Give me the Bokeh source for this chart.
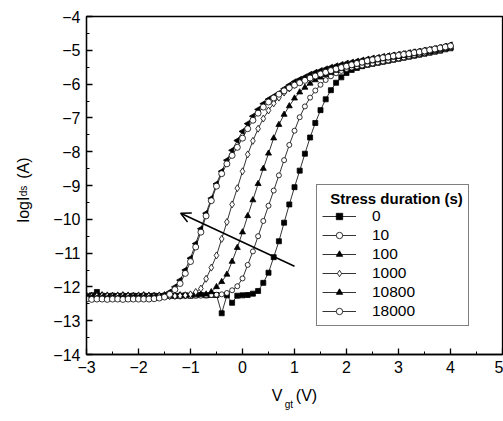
import math
from bokeh.plotting import figure
from bokeh.models import (Range1d, SingleIntervalTicker, FixedTicker, LinearAxis,
                          Arrow, OpenHead, Legend, LegendItem)
from bokeh.embed import file_html
from bokeh.resources import INLINE

# ---------------- data ----------------
vgt = [-3.0, -2.9, -2.8, -2.7, -2.6, -2.5, -2.4, -2.3, -2.2, -2.1,
       -2.0, -1.9, -1.8, -1.7, -1.6, -1.5, -1.4, -1.3, -1.2, -1.1,
       -1.0, -0.9, -0.8, -0.7, -0.6, -0.5, -0.4, -0.3, -0.2, -0.1,
       0.0, 0.1, 0.2, 0.3, 0.4, 0.5, 0.6, 0.7, 0.8, 0.9,
       1.0, 1.1, 1.2, 1.3, 1.4, 1.5, 1.6, 1.7, 1.8, 1.9,
       2.0, 2.1, 2.2, 2.3, 2.4, 2.5, 2.6, 2.7, 2.8, 2.9,
       3.0, 3.1, 3.2, 3.3, 3.4, 3.5, 3.6, 3.7, 3.8, 3.9,
       4.0]

logids_0 = [-12.28, -12.25, -12.15, -12.26, -12.27, -12.26, -12.27, -12.26, -12.27, -12.26,
            -12.27, -12.26, -12.27, -12.26, -12.27, -12.26, -12.26, -12.27, -12.26, -12.25,
            -12.26, -12.25, -12.24, -12.25, -12.24, -12.24, -12.78, -12.25, -12.47, -12.26,
            -12.25, -12.24, -12.20, -12.12, -11.88, -11.58, -11.12, -10.65, -10.10, -9.56,
            -9.05, -8.56, -8.06, -7.58, -7.15, -6.77, -6.45, -6.18, -5.96, -5.80,
            -5.67, -5.58, -5.52, -5.47, -5.43, -5.40, -5.37, -5.34, -5.31, -5.28,
            -5.25, -5.22, -5.19, -5.16, -5.13, -5.10, -5.07, -5.04, -5.01, -4.97,
            -4.94]

logids_10 = [-12.29, -12.28, -12.29, -12.28, -12.29, -12.28, -12.29, -12.28, -12.29, -12.28,
             -12.28, -12.29, -12.28, -12.28, -12.29, -12.28, -12.28, -12.27, -12.28, -12.27,
             -12.27, -12.26, -12.26, -12.25, -12.24, -12.23, -12.22, -12.18, -12.10, -11.98,
             -11.75, -11.35, -10.95, -10.50, -10.05, -9.60, -9.15, -8.70, -8.25, -7.80,
             -7.38, -6.98, -6.66, -6.40, -6.19, -6.02, -5.88, -5.77, -5.68, -5.61,
             -5.55, -5.51, -5.48, -5.45, -5.42, -5.39, -5.36, -5.33, -5.30, -5.27,
             -5.24, -5.21, -5.18, -5.15, -5.12, -5.09, -5.06, -5.03, -5.00, -4.96,
             -4.93]

logids_100 = [-12.25, -12.26, -12.25, -12.24, -12.25, -12.26, -12.25, -12.24, -12.25, -12.26,
              -12.25, -12.24, -12.25, -12.26, -12.25, -12.24, -12.25, -12.25, -12.24, -12.25,
              -12.24, -12.24, -12.23, -12.22, -12.15, -12.00, -11.85, -11.63, -11.25, -10.84,
              -10.38, -9.90, -9.43, -8.95, -8.50, -8.05, -7.60, -7.20, -6.90, -6.65,
              -6.42, -6.24, -6.10, -5.98, -5.88, -5.80, -5.73, -5.66, -5.60, -5.55,
              -5.50, -5.46, -5.42, -5.38, -5.35, -5.32, -5.29, -5.26, -5.23, -5.21,
              -5.19, -5.16, -5.14, -5.11, -5.09, -5.06, -5.04, -5.01, -4.98, -4.95,
              -4.92]

logids_1000 = [-12.27, -12.28, -12.27, -12.26, -12.27, -12.28, -12.27, -12.26, -12.27, -12.28,
               -12.27, -12.26, -12.27, -12.28, -12.27, -12.26, -12.27, -12.27, -12.26, -12.25,
               -12.22, -12.15, -12.05, -11.76, -11.43, -11.07, -10.58, -10.08, -9.56, -9.08,
               -8.58, -8.08, -7.68, -7.32, -7.02, -6.78, -6.57, -6.40, -6.25, -6.13,
               -6.02, -5.93, -5.85, -5.78, -5.72, -5.66, -5.61, -5.56, -5.52, -5.48,
               -5.45, -5.41, -5.37, -5.33, -5.30, -5.27, -5.24, -5.21, -5.19, -5.16,
               -5.14, -5.11, -5.09, -5.06, -5.04, -5.01, -4.99, -4.96, -4.93, -4.90,
               -4.86]

logids_10800 = [-12.31, -12.30, -12.31, -12.30, -12.31, -12.30, -12.31, -12.30, -12.31, -12.30,
                -12.30, -12.30, -12.31, -12.30, -12.30, -12.25, -12.15, -12.00, -11.80, -11.50,
                -11.15, -10.72, -10.28, -9.82, -9.38, -8.95, -8.58, -8.25, -7.96, -7.67,
                -7.40, -7.17, -6.95, -6.75, -6.58, -6.45, -6.36, -6.27, -6.14, -6.03,
                -5.93, -5.86, -5.79, -5.71, -5.65, -5.60, -5.55, -5.50, -5.46, -5.42,
                -5.38, -5.35, -5.32, -5.29, -5.26, -5.23, -5.21, -5.18, -5.16, -5.14,
                -5.12, -5.10, -5.07, -5.05, -5.03, -5.00, -4.98, -4.95, -4.92, -4.88,
                -4.84]

logids_18000 = [-12.36, -12.37, -12.36, -12.36, -12.37, -12.36, -12.36, -12.37, -12.36, -12.36,
                -12.36, -12.36, -12.36, -12.35, -12.33, -12.30, -12.22, -12.08, -11.90, -11.60,
                -11.25, -10.82, -10.38, -9.90, -9.45, -9.02, -8.65, -8.36, -8.11, -7.87,
                -7.60, -7.32, -7.07, -6.86, -6.68, -6.53, -6.41, -6.30, -6.20, -6.11,
                -6.03, -5.96, -5.89, -5.82, -5.76, -5.70, -5.65, -5.60, -5.55, -5.51,
                -5.47, -5.43, -5.39, -5.35, -5.31, -5.28, -5.25, -5.22, -5.20, -5.17,
                -5.15, -5.12, -5.10, -5.07, -5.05, -5.02, -4.99, -4.96, -4.93, -4.90,
                -4.87]

series_labels = ["0", "10", "100", "1000", "10800", "18000"]
series_values = [logids_0, logids_10, logids_100, logids_1000, logids_10800, logids_18000]

legend_title = "Stress duration (s)"
arrow_tail = (1.0, -11.39)
arrow_tip = (-1.19, -9.82)

# ---------------- figure ----------------
FONT = "Liberation Sans"
NB = "\u00a0"

p = figure(width=503, height=421, x_range=Range1d(-3, 5), y_range=Range1d(-14, -4),
           output_backend="svg", toolbar_location=None,
           min_border_left=86, min_border_right=1,
           min_border_top=16, min_border_bottom=67)
p.grid.visible = False
p.outline_line_color = "black"
p.outline_line_width = 1.3
p.outline_line_alpha = 1.0
p.background_fill_color = "white"
p.border_fill_color = "white"


def style_label(ax, size, standoff):
    ax.axis_label_text_font = FONT
    ax.axis_label_text_font_size = size
    ax.axis_label_text_font_style = "normal"
    ax.axis_label_text_color = "black"
    ax.axis_label_standoff = standoff


for ax in (p.xaxis[0], p.yaxis[0]):
    ax.ticker = SingleIntervalTicker(interval=1, num_minor_ticks=2)
    ax.axis_line_width = 1.3
    ax.axis_line_color = "black"
    ax.major_tick_line_color = "black"
    ax.minor_tick_line_color = "black"
    ax.major_tick_line_width = 1.3
    ax.minor_tick_line_width = 1.0
    ax.major_tick_in = 6
    ax.major_tick_out = 0
    ax.minor_tick_in = 3
    ax.minor_tick_out = 0
    ax.major_label_text_font = FONT
    ax.major_label_text_font_size = "16px"
    ax.major_label_text_color = "black"
    ax.major_label_standoff = 6

# x title "V_gt (V)": main part on the tick axis, subscript on an extra bare axis
p.xaxis[0].axis_label = "V" + NB * 3 + "(V)"
style_label(p.xaxis[0], "16px", 11)

# y title "logI_ds (A)": subscript on the tick axis, main part on an extra bare axis
p.yaxis[0].axis_label = "ds" + NB * 4
style_label(p.yaxis[0], "10px", 21)


def bare_axis():
    a = LinearAxis(ticker=FixedTicker(ticks=[]))
    a.axis_line_color = None
    a.major_tick_in = 0
    a.major_tick_out = 0
    a.minor_tick_in = 0
    a.minor_tick_out = 0
    a.major_label_standoff = 0
    return a


ax_gt = bare_axis()
ax_gt.axis_label = "gt" + NB * 4
style_label(ax_gt, "10px", -8)
p.add_layout(ax_gt, "below")

ax_log = bare_axis()
ax_log.axis_label = "logI" + NB * 4 + "(A)" + NB * 2
style_label(ax_log, "16px", -16)
p.add_layout(ax_log, "left")

styles = [
    dict(marker="square", size=5, fill_color="black", angle=0.0),
    dict(marker="circle", size=5, fill_color="white", angle=0.0),
    dict(marker="triangle", size=6, fill_color="black", angle=0.0),
    dict(marker="diamond", size=7, fill_color="white", angle=0.0),
    dict(marker="triangle", size=6, fill_color="black", angle=math.pi / 2),
    dict(marker="circle", size=6, fill_color="white", angle=0.0),
]

items = []
for lab, ys, st in zip(series_labels, series_values, styles):
    rl = p.line(vgt, ys, line_color="black", line_width=0.8)
    rs = p.scatter(vgt, ys, marker=st["marker"], size=st["size"], angle=st["angle"],
                   fill_color=st["fill_color"], line_color="black", line_width=0.8)
    items.append(LegendItem(label=lab, renderers=[rl, rs]))

legend = Legend(items=items, location=(230, 28), margin=0,
                title=NB * 2 + legend_title,
                title_text_font=FONT, title_text_font_style="bold",
                title_text_font_size="15px", title_text_color="black",
                title_standoff=0,
                label_text_font=FONT, label_text_font_size="15.5px", label_text_color="black",
                padding=5, spacing=1, glyph_height=16, glyph_width=34,
                label_height=16, label_standoff=16,
                border_line_color="black", border_line_width=1,
                background_fill_color="white", background_fill_alpha=1.0)
p.add_layout(legend)

p.add_layout(Arrow(end=OpenHead(size=10, line_width=1.5, line_color="black"),
                   x_start=arrow_tail[0], y_start=arrow_tail[1],
                   x_end=arrow_tip[0], y_end=arrow_tip[1],
                   line_width=1.5, line_color="black"))

open("out.html", "w").write(file_html(p, INLINE))
